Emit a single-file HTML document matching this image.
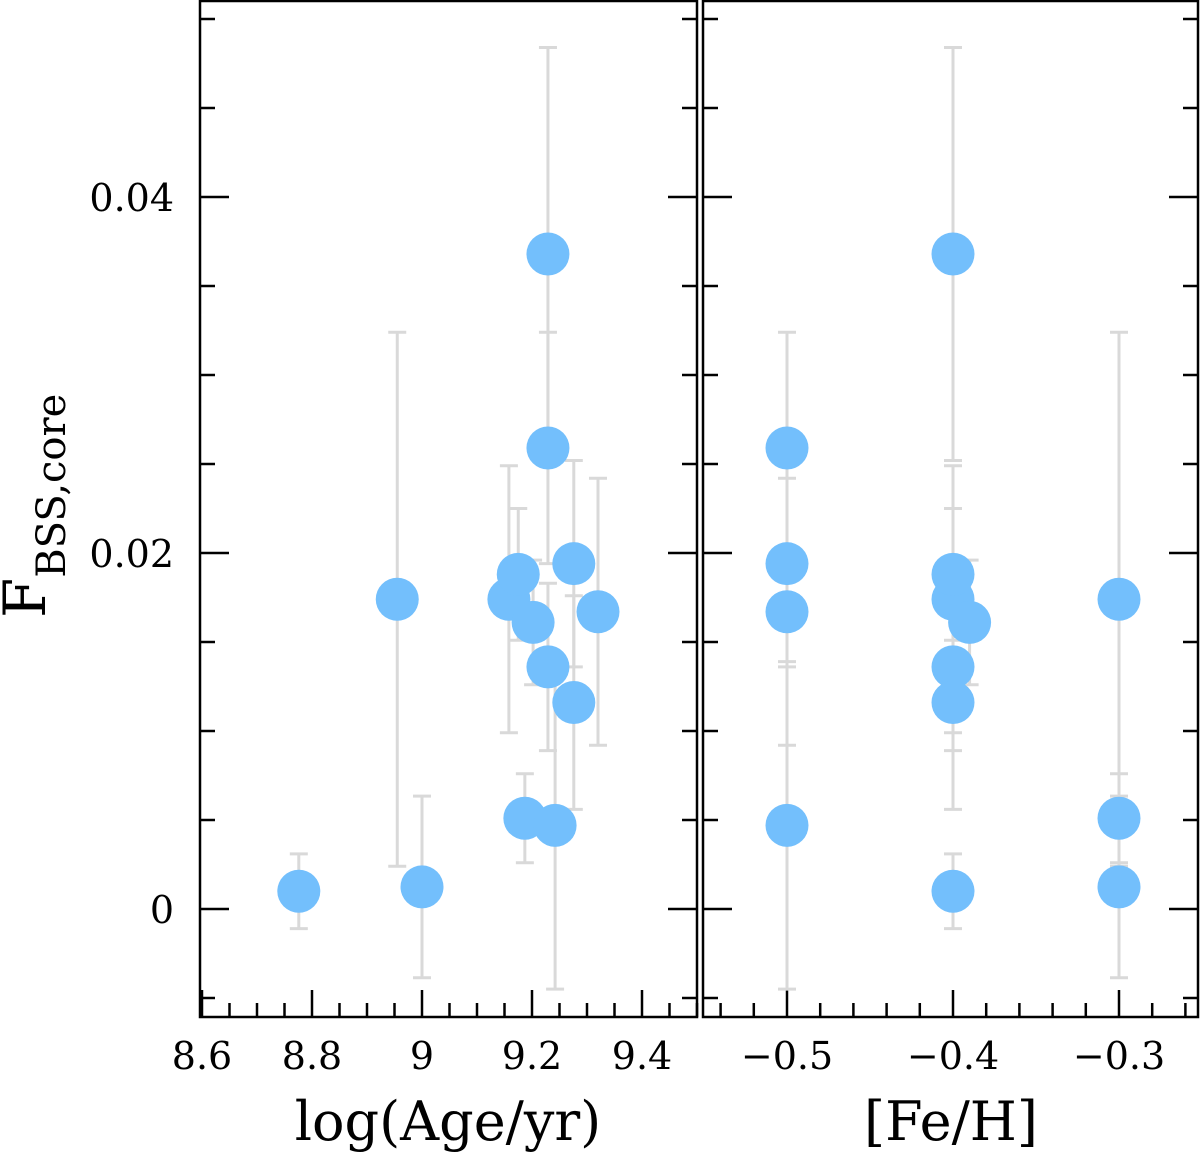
<!DOCTYPE html>
<html><head><meta charset="utf-8"><style>
html,body{margin:0;padding:0;background:#fff;}
svg{display:block;font-family:"DejaVu Serif","Liberation Serif",serif;}
</style></head><body>
<svg id="chart" width="1200" height="1155" viewBox="0 0 1200 1155" xmlns="http://www.w3.org/2000/svg">
<g id="grid"></g>
<g id="marks"></g>
<text transform="translate(45,618) rotate(-90)" font-size="58" fill="#000">F<tspan font-size="40" dy="20">BSS,core</tspan></text>
<text x="448" y="1140" font-size="54" text-anchor="middle">log(Age/yr)</text>
<text x="951" y="1140" font-size="54" text-anchor="middle">[Fe/H]</text>
</svg>
<script>
const ages = [8.776, 8.955, 9.0, 9.158, 9.175, 9.187, 9.202, 9.229, 9.229, 9.229, 9.242, 9.276, 9.276, 9.32];
const fehs = [-0.4, -0.3, -0.3, -0.4, -0.4, -0.3, -0.39, -0.4, -0.5, -0.4, -0.5, -0.5, -0.4, -0.5];
const fvals = [0.0010, 0.0174, 0.00124, 0.0174, 0.0188, 0.0051, 0.0161, 0.0368, 0.0259, 0.0136, 0.0047, 0.0194, 0.0116, 0.0167];
const ferrs = [0.0021, 0.0150, 0.0051, 0.0075, 0.0037, 0.0025, 0.0035, 0.0116, 0.0065, 0.0047, 0.0092, 0.0058, 0.0060, 0.0075];
const yTicks = [0, 0.02, 0.04];
const yTickLabels = ["0", "0.02", "0.04"];
const ageTicks = [8.6, 8.8, 9.0, 9.2, 9.4];
const ageTickLabels = ["8.6", "8.8", "9", "9.2", "9.4"];
const fehTicks = [-0.5, -0.4, -0.3];
const fehTickLabels = ["\u22120.5", "\u22120.4", "\u22120.3"];

const NS = "http://www.w3.org/2000/svg";
const TOP = 0, BOT = 1017;
const yS = v => 909 - v * 17800;
const yMin = (909 - BOT) / 17800, yMax = 909 / 17800;
const P1 = {x0: 200, x1: 697, s: v => 202 + (v - 8.6) * 550, min: 8.596, max: 9.5, minor: 0.05};
const P2 = {x0: 703, x1: 1198, s: v => 787 + (v + 0.5) * 1660, min: -0.5506, max: -0.2524, minor: 0.02};
const axG = document.getElementById('grid');
const mG = document.getElementById('marks');
function mk(tag, attrs, parent) {
  const e = document.createElementNS(NS, tag);
  for (const k in attrs) e.setAttribute(k, attrs[k]);
  parent.appendChild(e);
  return e;
}
function panel(P, ticks, labels, name) {
  const fr = mk('rect', {x: P.x0, y: TOP + 1, width: P.x1 - P.x0, height: BOT - TOP - 1, fill: 'none', stroke: '#000', 'stroke-width': 2.5}, axG);
  
  
  for (let i = -1; i <= 10; i++) {
    const v = i * 0.005;
    if (v < yMin || v > yMax) continue;
    const major = Math.abs(v / 0.02 - Math.round(v / 0.02)) < 1e-6;
    const L = major ? 29 : 15, y = yS(v);
    const t1 = mk('line', {x1: P.x0, x2: P.x0 + L, y1: y, y2: y, stroke: '#000', 'stroke-width': 2.5}, axG);
    
    
    const t2 = mk('line', {x1: P.x1, x2: P.x1 - L, y1: y, y2: y, stroke: '#000', 'stroke-width': 2.5}, axG);
    
    
  }
  const n0 = Math.ceil(P.min / P.minor - 1e-6), n1 = Math.floor(P.max / P.minor + 1e-6);
  for (let n = n0; n <= n1; n++) {
    const v = n * P.minor;
    const major = ticks.some(t => Math.abs(t - v) < 1e-6);
    const x = P.s(v), L = major ? 27 : 14;
    const t = mk('line', {x1: x, x2: x, y1: BOT, y2: BOT - L, stroke: '#000', 'stroke-width': 2.5}, axG);
    
    
  }
  ticks.forEach((v, i) => {
    const t = mk('text', {x: P.s(v), y: 1069, 'font-size': 38, 'text-anchor': 'middle'}, axG);
    t.textContent = labels[i];
    
    
  });
}
panel(P1, ageTicks, ageTickLabels, 'age-panel');
panel(P2, fehTicks, fehTickLabels, 'feh-panel');
yTicks.forEach((v, i) => {
  const t = mk('text', {x: 174, y: yS(v) + 14, 'font-size': 38, 'text-anchor': 'end'}, axG);
  t.textContent = yTickLabels[i];
  
  
});
function errbar(x, v, e) {
  const g = mk('g', {stroke: '#d9d9d9', 'stroke-width': 3}, mG);
  
  
  const yt = yS(v + e), yb = yS(v - e);
  mk('line', {x1: x, x2: x, y1: yt, y2: yb}, g);
  mk('line', {x1: x - 9, x2: x + 9, y1: yt, y2: yt}, g);
  mk('line', {x1: x - 9, x2: x + 9, y1: yb, y2: yb}, g);
}
[[P1, ages], [P2, fehs]].forEach(([P, xs]) => {
  xs.forEach((xv, i) => errbar(P.s(xv), fvals[i], ferrs[i]));
});
[[P1, ages, 'age'], [P2, fehs, 'feh']].forEach(([P, xs, nm]) => {
  xs.forEach((xv, i) => {
    const c = mk('circle', {cx: P.s(xv), cy: yS(fvals[i]), r: 21.5, fill: '#73bffc'}, mG);
    
    
  });
});
</script>
</body></html>
